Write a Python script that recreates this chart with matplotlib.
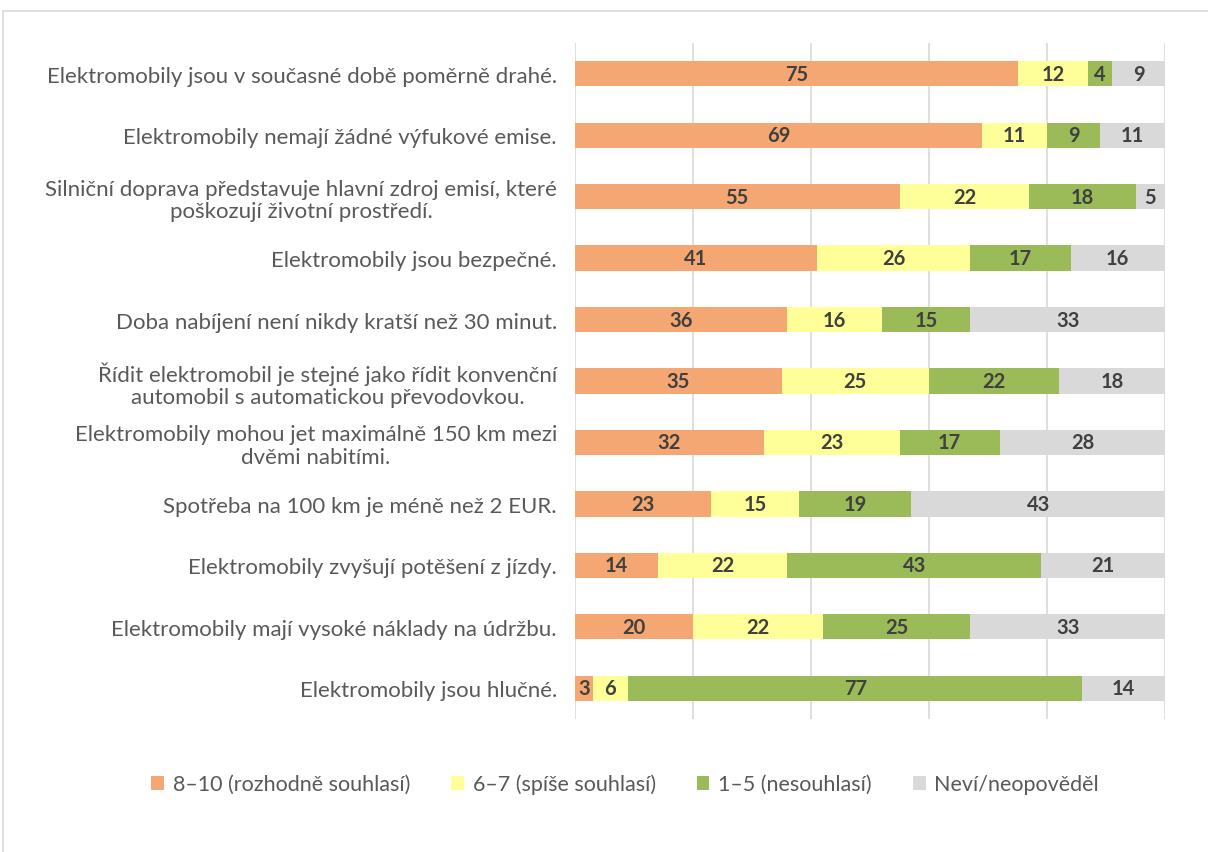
import matplotlib
matplotlib.use("Agg")
import matplotlib.pyplot as plt
from matplotlib.patches import Rectangle

categories = [
    "Elektromobily jsou v současné době poměrně drahé.",
    "Elektromobily nemají žádné výfukové emise.",
    "Silniční doprava představuje hlavní zdroj emisí, které\npoškozují životní prostředí.",
    "Elektromobily jsou bezpečné.",
    "Doba nabíjení není nikdy kratší než 30 minut.",
    "Řídit elektromobil je stejné jako řídit konvenční\nautomobil s automatickou převodovkou.",
    "Elektromobily mohou jet maximálně 150 km mezi\ndvěmi nabitími.",
    "Spotřeba na 100 km je méně než 2 EUR.",
    "Elektromobily zvyšují potěšení z jízdy.",
    "Elektromobily mají vysoké náklady na údržbu.",
    "Elektromobily jsou hlučné.",
]
agree_strong = [75, 69, 55, 41, 36, 35, 32, 23, 14, 20, 3]
agree_some = [12, 11, 22, 26, 16, 25, 23, 15, 22, 22, 6]
disagree = [4, 9, 18, 17, 15, 22, 17, 19, 43, 25, 77]
dont_know = [9, 11, 5, 16, 33, 18, 28, 43, 21, 33, 14]
series_names = ["8–10 (rozhodně souhlasí)", "6–7 (spíše souhlasí)",
                "1–5 (nesouhlasí)", "Neví/neopověděl"]

colors = ["#F4A772", "#FFFF99", "#9BBB59", "#D9D9D9"]
plt.rcParams['font.family'] = ['Lato', 'DejaVu Sans']

fig = plt.figure(figsize=(12.08, 8.53), dpi=100)
fig.patches.append(Rectangle((3/1208, -0.01), 1.0, 1 - 12/853 + 0.01, transform=fig.transFigure,
                             fill=False, edgecolor="#D9D9D9", linewidth=1.2))
ax = fig.add_axes([575/1208, 133/853, 590/1208, 676/853])

ypos = list(range(len(categories)))
left = [0] * len(categories)
data = [agree_strong, agree_some, disagree, dont_know]
handles = []
for vals, col, name in zip(data, colors, series_names):
    bars = ax.barh(ypos, vals, left=left, height=0.41, color=col, label=name, zorder=3)
    handles.append(bars)
    for y, v, l in zip(ypos, vals, left):
        ax.text(l + v / 2, y, str(v), ha="center", va="center", fontsize=14.5,
                fontweight="bold", color="#404040", zorder=4)
    left = [a + b for a, b in zip(left, vals)]

ax.set_xlim(0, 100)
ax.set_ylim(10.5, -0.5)
ax.set_xticks([0, 20, 40, 60, 80, 100])
ax.xaxis.grid(True, color="#D9D9D9", linewidth=1.2, zorder=0)
ax.tick_params(axis="x", length=0, labelbottom=False)
ax.tick_params(axis="y", length=0, pad=13)
ax.set_yticks(ypos)
ax.set_yticklabels(categories, fontsize=16, color="#595959", multialignment="center",
                   linespacing=1.15)
for s in ax.spines.values():
    s.set_visible(False)

fig.legend(handles=handles, labels=series_names, loc="center", bbox_to_anchor=(625/1208, 1 - 785/853),
           ncol=4, frameon=False, fontsize=15.5, labelcolor="#595959",
           handlelength=0.6, handleheight=0.6, handletextpad=0.4, columnspacing=1.9)

fig.savefig("out.png", dpi=100)
